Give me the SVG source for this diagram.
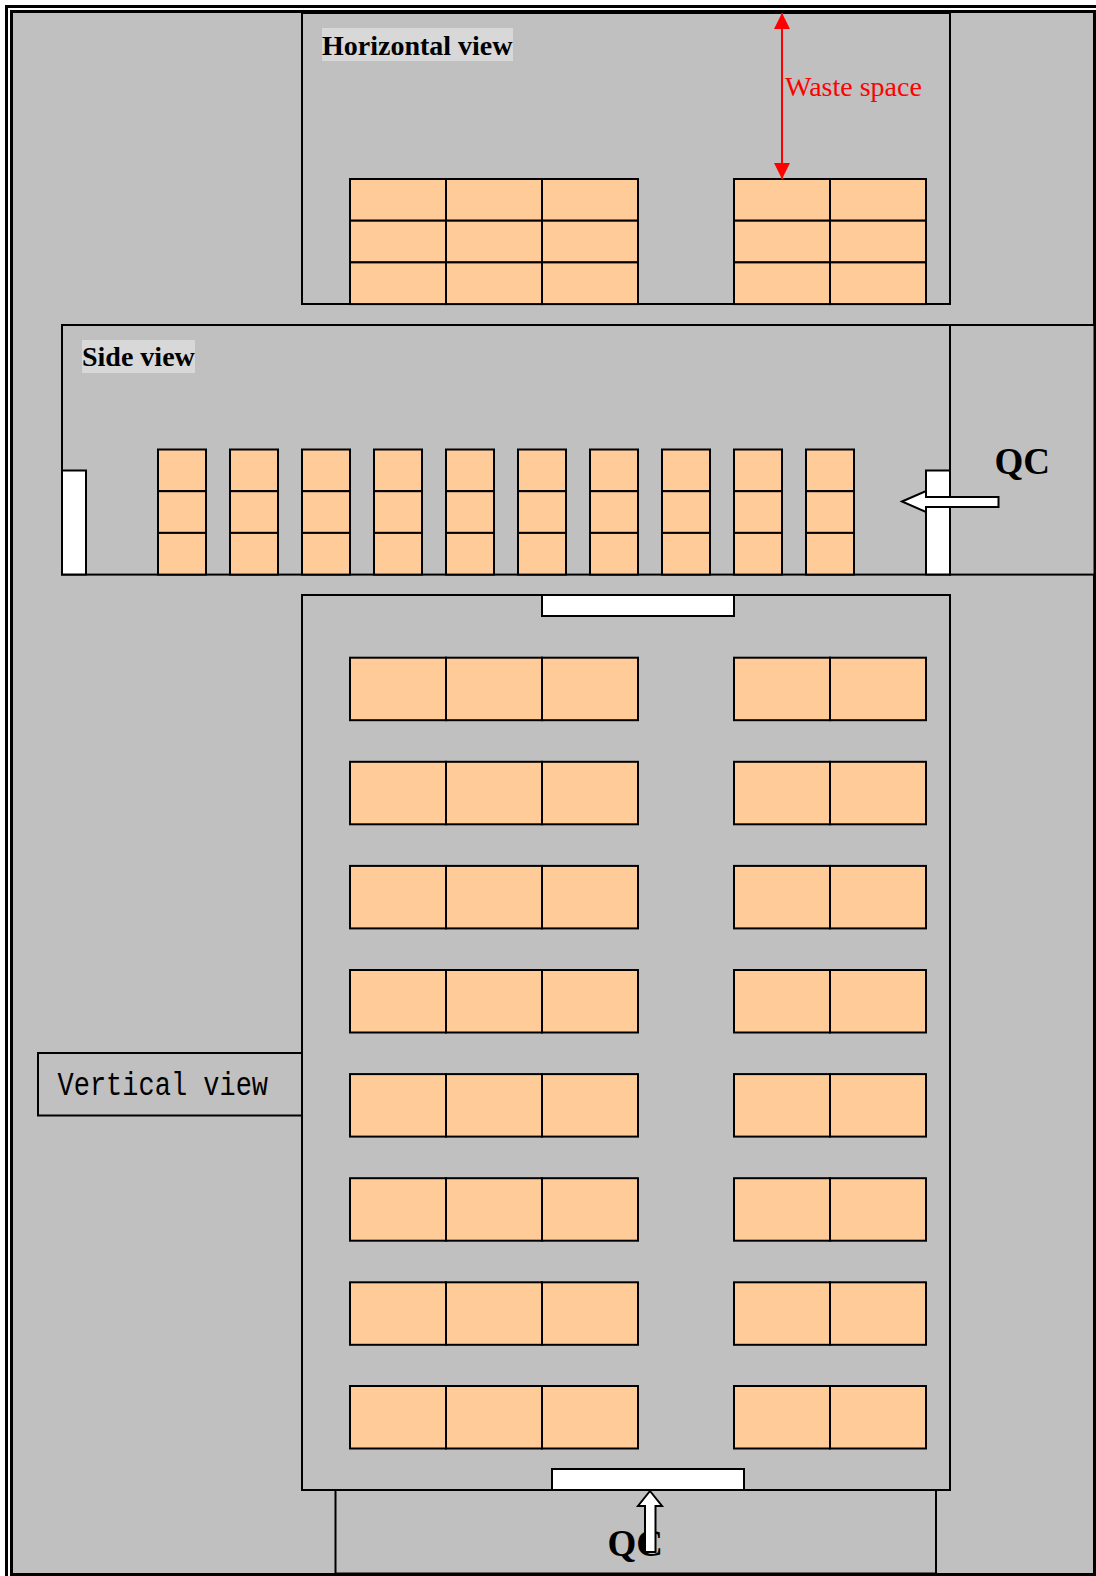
<svg xmlns="http://www.w3.org/2000/svg" width="1096" height="1576" viewBox="0 0 1096 1576">
<style>
.view{fill:#c0c0c0;stroke:#000;stroke-width:2}
.box{fill:#ffcc99;stroke:#000;stroke-width:2}
.door{fill:#fff;stroke:#000;stroke-width:2}
.line{fill:none;stroke:#000;stroke-width:2}
.label{fill:#d8d8d8}
.title{font-family:"Liberation Serif","Times New Roman",serif;font-size:28px;font-weight:bold;fill:#000}
.qc{font-family:"Liberation Serif","Times New Roman",serif;font-size:37px;font-weight:bold;fill:#000}
.waste{font-family:"Liberation Serif","Times New Roman",serif;font-size:28px;fill:#f00}
.mono{font-family:"Liberation Mono","Courier New",monospace;font-size:27px;fill:#000}
</style>
<defs>
<g id="row3">
<rect class="box" x="350" y="0" width="96" height="62.5"/><rect class="box" x="446" y="0" width="96" height="62.5"/><rect class="box" x="542" y="0" width="96" height="62.5"/>
<rect class="box" x="734" y="0" width="96" height="62.5"/><rect class="box" x="830" y="0" width="96" height="62.5"/>
</g>
<g id="hrow">
<rect class="box" x="350" y="0" width="96" height="41.7"/><rect class="box" x="446" y="0" width="96" height="41.7"/><rect class="box" x="542" y="0" width="96" height="41.7"/>
<rect class="box" x="734" y="0" width="96" height="41.7"/><rect class="box" x="830" y="0" width="96" height="41.7"/>
</g>
<g id="stack">
<rect class="box" x="0" y="449.5" width="48" height="41.7"/><rect class="box" x="0" y="491.2" width="48" height="41.7"/><rect class="box" x="0" y="532.9" width="48" height="41.7"/>
</g>
<marker id="redhead" markerUnits="userSpaceOnUse" markerWidth="16" markerHeight="16" refX="16" refY="8" orient="auto-start-reverse"><path d="M0 0L16 8L0 16Z" fill="#f00"/></marker>
</defs>
<rect width="1096" height="1576" fill="#fff"/>
<g id="frame">
<path class="line" d="M1096 6.5H6.5V1576" style="stroke-width:3"/>
<rect x="11.5" y="11.5" width="1083" height="1563" fill="#c0c0c0" stroke="#000" stroke-width="3"/>
</g>
<g id="qc-side"><rect class="view" x="950" y="325" width="144.5" height="249.6"/><text class="qc" x="994.5" y="474">QC</text></g>
<g id="qc-bottom"><rect class="view" x="335.5" y="1490" width="600.5" height="83.5"/><text class="qc" x="607.5" y="1556">QC</text></g>
<g id="horizontal-view">
<rect class="view" x="302" y="13" width="648" height="291"/>
<rect class="label" x="322" y="28" width="191" height="33"/>
<text class="title" x="322" y="55">Horizontal view</text>
<use href="#hrow" y="179"/><use href="#hrow" y="220.7"/><use href="#hrow" y="262.4"/>
</g>
<g id="side-view">
<rect class="view" x="62" y="325" width="888" height="249.6"/>
<rect class="label" x="82" y="340" width="113" height="33"/>
<text class="title" x="82" y="366">Side view</text>
<rect class="door" x="62" y="470.5" width="24" height="104"/>
<rect class="door" x="926" y="470.5" width="24" height="104"/>
<use href="#stack" x="158"/><use href="#stack" x="230"/><use href="#stack" x="302"/><use href="#stack" x="374"/><use href="#stack" x="446"/><use href="#stack" x="518"/><use href="#stack" x="590"/><use href="#stack" x="662"/><use href="#stack" x="734"/><use href="#stack" x="806"/>
</g>
<g id="vertical-label"><rect class="view" x="38" y="1053" width="264" height="62.5"/><text class="mono" transform="translate(57.5 1095) scale(1 1.2)">Vertical view</text></g>
<g id="vertical-view">
<rect class="view" x="302" y="595" width="648" height="895"/>
<rect class="door" x="542" y="595" width="192" height="21"/>
<rect class="door" x="552" y="1469" width="192" height="21"/>
<use href="#row3" y="657.7"/><use href="#row3" y="761.8"/><use href="#row3" y="865.9"/><use href="#row3" y="970"/><use href="#row3" y="1074.1"/><use href="#row3" y="1178.2"/><use href="#row3" y="1282.3"/><use href="#row3" y="1386"/>
</g>
<g id="connectors">
<line x1="782" y1="13" x2="782" y2="179" stroke="#f00" stroke-width="2" marker-start="url(#redhead)" marker-end="url(#redhead)"/>
<path class="door" d="M902 501.5L926 491V497H998.5V507H926V512Z"/>
<path class="door" d="M650 1491L662 1506H655.5V1552H645V1506H638Z"/>
</g>
<text class="waste" x="785" y="96">Waste space</text>
</svg>
